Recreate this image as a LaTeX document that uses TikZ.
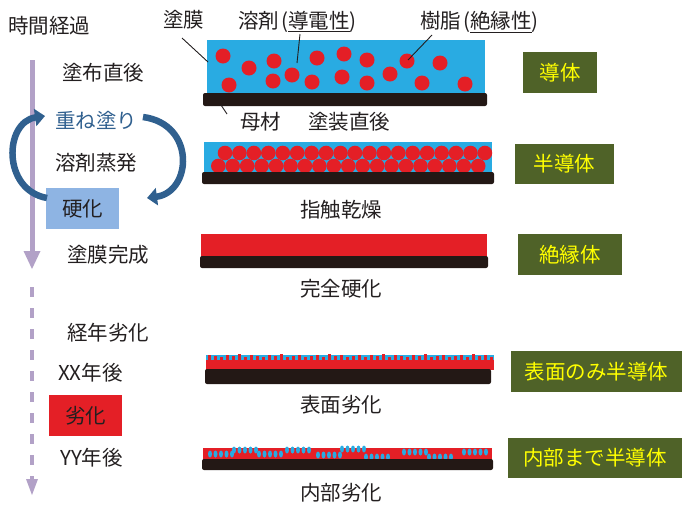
\documentclass[tikz,border=0pt]{standalone}
\usepackage{fontspec}
\setmainfont{Noto Sans CJK JP}
\usetikzlibrary{arrows.meta}
\definecolor{film}{HTML}{29ABE2}
\definecolor{resin}{HTML}{E41F26}
\definecolor{base}{HTML}{231815}
\definecolor{ink}{HTML}{231F20}
\definecolor{olive}{HTML}{4F6228}
\definecolor{lbl}{HTML}{FFFF00}
\definecolor{timec}{HTML}{B2A1C7}
\definecolor{hardc}{HTML}{8EB4E3}
\definecolor{cyc}{HTML}{30608F}
\begin{document}
\begin{tikzpicture}[x=1pt,y=-1pt,
  txt/.style={anchor=west,inner sep=0pt,font=\fontsize{20.5}{20.5}\selectfont,text=ink},
  ctxt/.style={inner sep=0pt,font=\fontsize{20.5}{20.5}\selectfont,text=ink},
  obox/.style={fill=olive,inner sep=0pt,font=\fontsize{20.5}{20.5}\selectfont,text=lbl},
  sbox/.style={inner sep=0pt,minimum width=73pt,minimum height=41pt,font=\fontsize{20.5}{20.5}\selectfont,text=ink},
  lead/.style={draw=ink,line width=0.9pt},
  cycarrow/.style={draw=cyc,line width=6.5pt,-{Triangle[width=17pt,length=10pt]}}]
\useasboundingbox (0,0) rectangle (682,504);

% ---- time axis
\coordinate (t0) at (32,60);
\coordinate (t1) at (32,252);
\coordinate (t2) at (32,287);
\coordinate (t3) at (32,480);
\draw[timec,line width=5pt] (t0) -- (t1);
\fill[timec] (23.5,251) -- (40.5,251) -- (32,269) -- cycle;
\draw[timec,line width=4pt,dash pattern=on 10pt off 11pt] (t2) -- (t3);
\fill[timec] (26,479) -- (38,479) -- (32,495) -- cycle;

\node[txt] (title) at (8,26) {時間経過};
\node[txt] (s1) at (62,73) {塗布直後};
\node[txt,text=cyc] (s2) at (55,120) {重ね塗り};
\node[txt] (s3) at (55,163) {溶剤蒸発};
\node[sbox,fill=hardc] (s4) at (82.5,208.5) {硬化};
\node[txt] (s5) at (67,255) {塗膜完成};
\node[txt] (s6) at (67,333) {経年劣化};
\node[txt] (s7) at (58,373) {XX年後};
\node[sbox,fill=resin] (s8) at (85.5,415.5) {劣化};
\node[txt] (s9) at (60,458) {YY年後};

% ---- recoating cycle
\coordinate (c1) at (47,198);
\coordinate (c2) at (45,116);
\coordinate (c3) at (143,117);
\coordinate (c4) at (147,198);
\draw[cycarrow] (c1) .. controls (2,190) and (4,122) .. (c2);
\draw[cycarrow] (c3) .. controls (196,124) and (192,192) .. (c4);

% ---- layer 1: just after coating
\fill[film] (207,40) rectangle (485,93);
\foreach \x/\y in {223/56,249/68,274/61,229/85,273/81,292/75,317/58,312/82,344/54,342/77,367/60,367/83,390/74,407/61,440/63,422/83,465/84}
  \fill[resin] (\x,\y) circle (7.5pt);
\fill[base,rounded corners=2pt] (203,93) rectangle (487,106);

\node[txt] (lfilm) at (163,20) {塗膜};
\node[txt] (lsolv) at (238,22) {溶剤\hspace{2pt}(\underline{導電性})};
\node[txt] (lres) at (420,22) {樹脂\hspace{2pt}(\underline{絶縁性})};
\node[txt] (lbase) at (240,122) {母材};
\node[ctxt] (cap1) at (349,122) {塗装直後};
\coordinate (f1) at (182,38);  \coordinate (f2) at (208,62);
\coordinate (v1) at (300,34);  \coordinate (v2) at (297,63);
\coordinate (r1) at (432,35);  \coordinate (r2) at (408,60);
\coordinate (b1) at (221,105); \coordinate (b2) at (227,114);
\draw[lead] (f1) -- (f2);
\draw[lead] (v1) -- (v2);
\draw[lead] (r1) -- (r2);
\draw[lead] (b1) -- (b2);

% ---- layer 2: touch dry
\fill[film] (204,142) rectangle (492,173);
\foreach \i in {0,...,18} {
  \fill[resin] (218.3+14.44*\i,166) circle (7.3pt);
  \fill[resin] (225+14.44*\i,153) circle (7.3pt);
}
\fill[base,rounded corners=2pt] (202,172) rectangle (494,184);
\node[ctxt] (cap2) at (341,210) {指触乾燥};

% ---- layer 3: fully cured
\fill[resin] (201,234) rectangle (487,256.5);
\fill[base,rounded corners=2pt] (200,256) rectangle (488,268);
\node[ctxt] (cap3) at (341,289) {完全硬化};

% ---- layer 4: surface degradation
\fill[film] (206,355) rectangle (494,361);
\fill[resin] (206,360) rectangle (494,370);
\foreach \i/\h in {0/355,1/356,2/357,3/355,4/356,5/354,6/357,7/355,8/356,9/357,10/355,11/356,12/354,13/357,14/356,15/355,16/357,17/356,18/355,19/357,20/354,21/356,22/355,23/357,24/356,25/355,26/357,27/355,28/356,29/354,30/357,31/355,32/356,33/357,34/355,35/356,36/354,37/357,38/356,39/355,40/357,41/356,42/355,43/357,44/354,45/356,46/355,47/357}
  \fill[resin] (207.5+6*\i,\h) rectangle (210.5+6*\i,361);
\fill[base,rounded corners=2pt] (205,369) rectangle (491,384);
\node[ctxt] (cap4) at (341,405) {表面劣化};

% ---- layer 5: internal degradation
\fill[resin] (203,448) rectangle (492,460);
\foreach \gx/\gy in {210/454,234/450,259/454,287/450,318/455,342/449,366/457,404/452,429/457,464/452}
  \foreach \k in {0,...,4}
    \fill[film] (\gx+5.5*\k,\gy) ellipse [x radius=2pt,y radius=3.5pt];
\fill[base,rounded corners=2pt] (202,459) rectangle (493,470);
\node[ctxt] (cap5) at (341,493) {内部劣化};

% ---- property labels
\node[obox,minimum width=74pt,minimum height=41pt] (p1) at (560,72.5) {導体};
\node[obox,minimum width=99pt,minimum height=40pt] (p2) at (564.5,164) {半導体};
\node[obox,minimum width=104pt,minimum height=41pt] (p3) at (570,254.5) {絶縁体};
\node[obox,minimum width=171pt,minimum height=41pt] (p4) at (596.5,371.5) {表面のみ半導体};
\node[obox,minimum width=174pt,minimum height=40pt] (p5) at (595,458) {内部まで半導体};
\end{tikzpicture}
\end{document}
